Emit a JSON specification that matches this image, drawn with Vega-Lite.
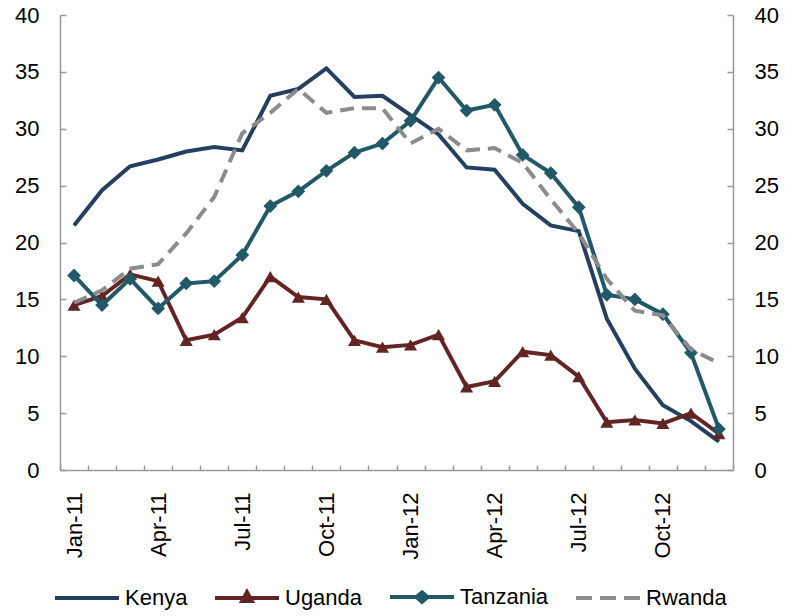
{
  "$schema": "https://vega.github.io/schema/vega-lite/v6.json",
  "autosize": {"type": "none"},
  "padding": {"left": 60, "top": 15, "right": 52, "bottom": 146},
  "width": 673,
  "height": 455,
  "background": "white",
  "config": {
    "font": "Liberation Sans",
    "view": {"stroke": null},
    "axis": {
      "grid": false,
      "title": null,
      "domainColor": "#999999",
      "domainWidth": 1.5,
      "tickColor": "#999999",
      "tickWidth": 1.5,
      "labelFont": "Liberation Sans",
      "labelFontSize": 22,
      "labelColor": "#000000"
    }
  },
  "data": {
    "values": [
      {"country": "Kenya", "month": "Jan-11", "value": 21.5},
      {"country": "Kenya", "month": "Feb-11", "value": 24.6},
      {"country": "Kenya", "month": "Mar-11", "value": 26.7},
      {"country": "Kenya", "month": "Apr-11", "value": 27.3},
      {"country": "Kenya", "month": "May-11", "value": 28.0},
      {"country": "Kenya", "month": "Jun-11", "value": 28.4},
      {"country": "Kenya", "month": "Jul-11", "value": 28.1},
      {"country": "Kenya", "month": "Aug-11", "value": 32.9},
      {"country": "Kenya", "month": "Sep-11", "value": 33.5},
      {"country": "Kenya", "month": "Oct-11", "value": 35.3},
      {"country": "Kenya", "month": "Nov-11", "value": 32.8},
      {"country": "Kenya", "month": "Dec-11", "value": 32.9},
      {"country": "Kenya", "month": "Jan-12", "value": 31.2},
      {"country": "Kenya", "month": "Feb-12", "value": 29.5},
      {"country": "Kenya", "month": "Mar-12", "value": 26.6},
      {"country": "Kenya", "month": "Apr-12", "value": 26.4},
      {"country": "Kenya", "month": "May-12", "value": 23.4},
      {"country": "Kenya", "month": "Jun-12", "value": 21.5},
      {"country": "Kenya", "month": "Jul-12", "value": 21.0},
      {"country": "Kenya", "month": "Aug-12", "value": 13.3},
      {"country": "Kenya", "month": "Sep-12", "value": 8.9},
      {"country": "Kenya", "month": "Oct-12", "value": 5.7},
      {"country": "Kenya", "month": "Nov-12", "value": 4.3},
      {"country": "Kenya", "month": "Dec-12", "value": 2.5},
      {"country": "Uganda", "month": "Jan-11", "value": 14.5},
      {"country": "Uganda", "month": "Feb-11", "value": 15.3},
      {"country": "Uganda", "month": "Mar-11", "value": 17.2},
      {"country": "Uganda", "month": "Apr-11", "value": 16.6},
      {"country": "Uganda", "month": "May-11", "value": 11.4},
      {"country": "Uganda", "month": "Jun-11", "value": 11.9},
      {"country": "Uganda", "month": "Jul-11", "value": 13.4},
      {"country": "Uganda", "month": "Aug-11", "value": 17.0},
      {"country": "Uganda", "month": "Sep-11", "value": 15.2},
      {"country": "Uganda", "month": "Oct-11", "value": 15.0},
      {"country": "Uganda", "month": "Nov-11", "value": 11.4},
      {"country": "Uganda", "month": "Dec-11", "value": 10.8},
      {"country": "Uganda", "month": "Jan-12", "value": 11.0},
      {"country": "Uganda", "month": "Feb-12", "value": 11.9},
      {"country": "Uganda", "month": "Mar-12", "value": 7.3},
      {"country": "Uganda", "month": "Apr-12", "value": 7.8},
      {"country": "Uganda", "month": "May-12", "value": 10.4},
      {"country": "Uganda", "month": "Jun-12", "value": 10.1},
      {"country": "Uganda", "month": "Jul-12", "value": 8.2},
      {"country": "Uganda", "month": "Aug-12", "value": 4.2},
      {"country": "Uganda", "month": "Sep-12", "value": 4.4},
      {"country": "Uganda", "month": "Oct-12", "value": 4.1},
      {"country": "Uganda", "month": "Nov-12", "value": 5.0},
      {"country": "Uganda", "month": "Dec-12", "value": 3.2},
      {"country": "Tanzania", "month": "Jan-11", "value": 17.1},
      {"country": "Tanzania", "month": "Feb-11", "value": 14.5},
      {"country": "Tanzania", "month": "Mar-11", "value": 16.8},
      {"country": "Tanzania", "month": "Apr-11", "value": 14.2},
      {"country": "Tanzania", "month": "May-11", "value": 16.4},
      {"country": "Tanzania", "month": "Jun-11", "value": 16.6},
      {"country": "Tanzania", "month": "Jul-11", "value": 18.9},
      {"country": "Tanzania", "month": "Aug-11", "value": 23.2},
      {"country": "Tanzania", "month": "Sep-11", "value": 24.5},
      {"country": "Tanzania", "month": "Oct-11", "value": 26.3},
      {"country": "Tanzania", "month": "Nov-11", "value": 27.9},
      {"country": "Tanzania", "month": "Dec-11", "value": 28.7},
      {"country": "Tanzania", "month": "Jan-12", "value": 30.7},
      {"country": "Tanzania", "month": "Feb-12", "value": 34.5},
      {"country": "Tanzania", "month": "Mar-12", "value": 31.6},
      {"country": "Tanzania", "month": "Apr-12", "value": 32.1},
      {"country": "Tanzania", "month": "May-12", "value": 27.7},
      {"country": "Tanzania", "month": "Jun-12", "value": 26.1},
      {"country": "Tanzania", "month": "Jul-12", "value": 23.1},
      {"country": "Tanzania", "month": "Aug-12", "value": 15.4},
      {"country": "Tanzania", "month": "Sep-12", "value": 15.0},
      {"country": "Tanzania", "month": "Oct-12", "value": 13.7},
      {"country": "Tanzania", "month": "Nov-12", "value": 10.3},
      {"country": "Tanzania", "month": "Dec-12", "value": 3.6},
      {"country": "Rwanda", "month": "Jan-11", "value": 14.7},
      {"country": "Rwanda", "month": "Feb-11", "value": 15.8},
      {"country": "Rwanda", "month": "Mar-11", "value": 17.7},
      {"country": "Rwanda", "month": "Apr-11", "value": 18.1},
      {"country": "Rwanda", "month": "May-11", "value": 20.8},
      {"country": "Rwanda", "month": "Jun-11", "value": 24.0},
      {"country": "Rwanda", "month": "Jul-11", "value": 29.6},
      {"country": "Rwanda", "month": "Aug-11", "value": 31.4},
      {"country": "Rwanda", "month": "Sep-11", "value": 33.5},
      {"country": "Rwanda", "month": "Oct-11", "value": 31.4},
      {"country": "Rwanda", "month": "Nov-11", "value": 31.8},
      {"country": "Rwanda", "month": "Dec-11", "value": 31.8},
      {"country": "Rwanda", "month": "Jan-12", "value": 28.7},
      {"country": "Rwanda", "month": "Feb-12", "value": 30.0},
      {"country": "Rwanda", "month": "Mar-12", "value": 28.1},
      {"country": "Rwanda", "month": "Apr-12", "value": 28.3},
      {"country": "Rwanda", "month": "May-12", "value": 27.0},
      {"country": "Rwanda", "month": "Jun-12", "value": 23.8},
      {"country": "Rwanda", "month": "Jul-12", "value": 20.8},
      {"country": "Rwanda", "month": "Aug-12", "value": 16.8},
      {"country": "Rwanda", "month": "Sep-12", "value": 14.0},
      {"country": "Rwanda", "month": "Oct-12", "value": 13.6},
      {"country": "Rwanda", "month": "Nov-12", "value": 10.6},
      {"country": "Rwanda", "month": "Dec-12", "value": 9.4}
    ]
  },
  "encoding": {
    "x": {
      "field": "month",
      "type": "ordinal",
      "bandPosition": 0.5,
      "scale": {
        "type": "band",
        "paddingInner": 0,
        "paddingOuter": 0,
        "domain": ["Jan-11","Feb-11","Mar-11","Apr-11","May-11","Jun-11","Jul-11","Aug-11","Sep-11","Oct-11","Nov-11","Dec-11","Jan-12","Feb-12","Mar-12","Apr-12","May-12","Jun-12","Jul-12","Aug-12","Sep-12","Oct-12","Nov-12","Dec-12"]
      },
      "axis": {
        "orient": "bottom",
        "labelAngle": -90,
        "tickBand": "extent",
        "tickSize": -5,
        "labelPadding": 27,
        "labelExpr": "indexof(['Jan-11','Apr-11','Jul-11','Oct-11','Jan-12','Apr-12','Jul-12','Oct-12'], datum.value) >= 0 ? datum.label : ''"
      }
    },
    "color": {
      "field": "country",
      "type": "nominal",
      "scale": {
        "domain": ["Kenya", "Uganda", "Tanzania", "Rwanda"],
        "range": ["#243F60", "#632523", "#215968", "#8C8C8C"]
      },
      "legend": {
        "orient": "none",
        "legendX": -7,
        "legendY": 548,
        "direction": "horizontal",
        "title": null,
        "labelFont": "Liberation Sans",
        "labelFontSize": 22,
        "labelColor": "#000000",
        "labelOffset": 4,
        "labelLimit": 300,
        "columnPadding": 19,
        "symbolSize": 4096,
        "symbolStrokeWidth": 4,
        "symbolType": "M-1,0H1",
        "encode": {
          "symbols": {
            "update": {
              "shape": {"signal": "datum.value === 'Uganda' ? 'M-1,0H1M-0.15,0.1L0,-0.18L0.15,0.1Z' : datum.value === 'Tanzania' ? 'M-1,0H1M-0.17,0L0,-0.15L0.17,0L0,0.15Z' : 'M-1,0H1'"},
              "fill": {"signal": "datum.value === 'Uganda' ? '#632523' : datum.value === 'Tanzania' ? '#215968' : 'transparent'"},
              "strokeDash": {"signal": "datum.value === 'Rwanda' ? [16, 8] : [1, 0]"},
              "strokeWidth": {"value": 4}
            }
          }
        }
      }
    }
  },
  "layer": [
    {
      "encoding": {
        "y": {
          "field": "value",
          "type": "quantitative",
          "scale": {"domain": [0, 40], "nice": false},
          "axis": {
            "orient": "left",
            "values": [0, 5, 10, 15, 20, 25, 30, 35, 40],
            "tickSize": -6,
            "labelPadding": 27
          }
        }
      },
      "layer": [
        {
          "transform": [{"filter": "datum.country === 'Kenya'"}],
          "mark": {"type": "line", "strokeWidth": 4}
        },
        {
          "transform": [{"filter": "datum.country === 'Uganda'"}],
          "mark": {"type": "line", "strokeWidth": 4, "point": {"shape": "triangle-up", "size": 170, "filled": true}}
        },
        {
          "transform": [{"filter": "datum.country === 'Tanzania'"}],
          "mark": {"type": "line", "strokeWidth": 4, "point": {"shape": "diamond", "size": 190, "filled": true}}
        }
      ]
    },
    {
      "transform": [{"filter": "datum.country === 'Rwanda'"}],
      "mark": {"type": "line", "strokeWidth": 4, "strokeDash": [14, 8]},
      "encoding": {
        "y": {
          "field": "value",
          "type": "quantitative",
          "scale": {"domain": [0, 40], "nice": false},
          "axis": {
            "orient": "right",
            "values": [0, 5, 10, 15, 20, 25, 30, 35, 40],
            "tickSize": -6,
            "labelPadding": 27
          }
        }
      }
    }
  ],
  "resolve": {"scale": {"y": "independent"}}
}
